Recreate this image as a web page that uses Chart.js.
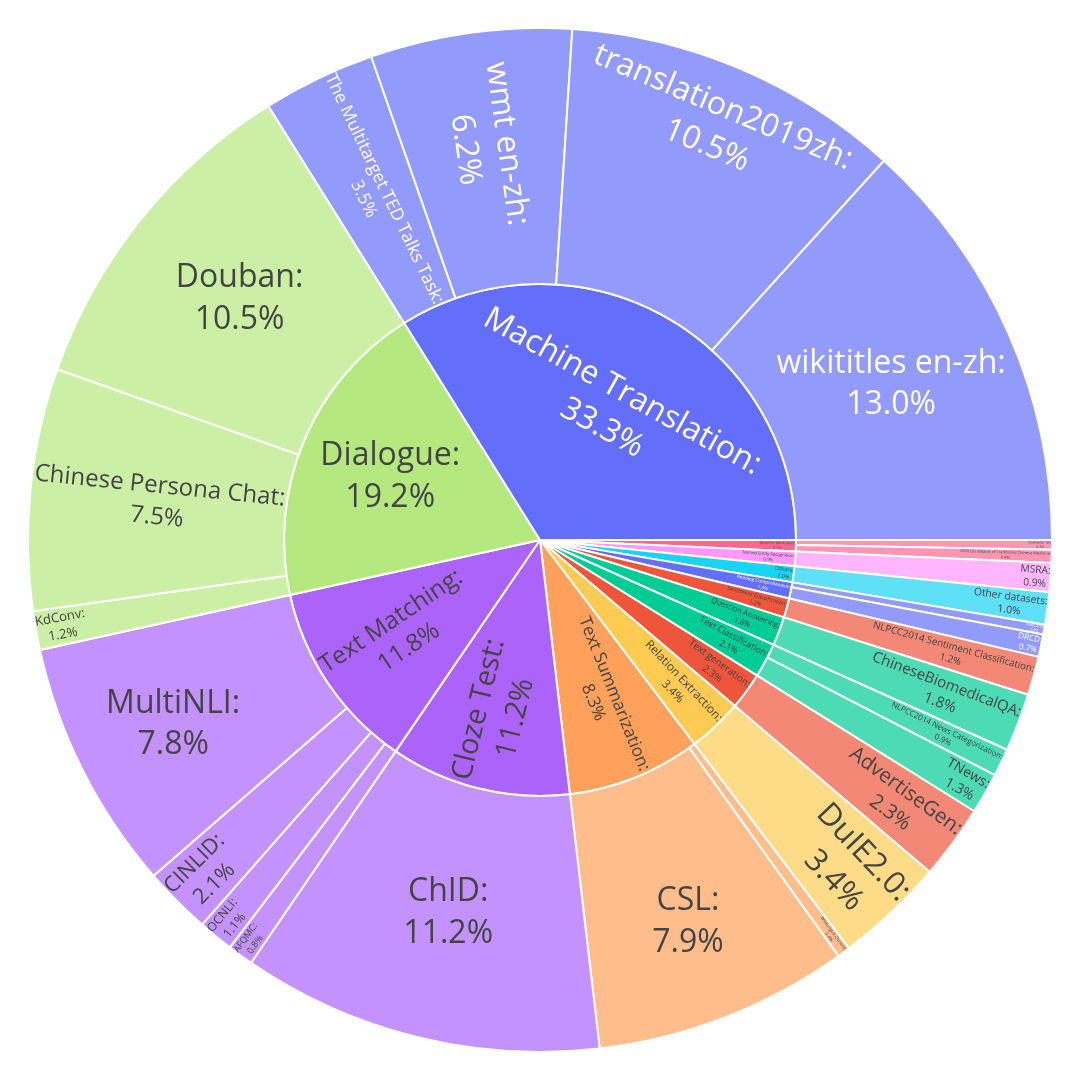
<!DOCTYPE html>
<html>
<head>
<meta charset="utf-8">
<script src="https://cdn.jsdelivr.net/npm/chart.js@4"></script>
<style>
  html, body { margin: 0; padding: 0; background: #ffffff; }
  #wrap { width: 1080px; height: 1080px; }
</style>
</head>
<body>
<div id="wrap"><canvas id="c" width="1080" height="1080"></canvas></div>
<script>
// ---- data (counter-clockwise order from 3 o'clock, as in the reference) ----
const categories = ["Machine Translation", "Dialogue", "Text Matching", "Cloze Test",
  "Text Summarization", "Relation Extraction", "Text generation", "Text Classification",
  "Question Answering", "Sentiment Classification", "Reading Comprehension", "Others",
  "Named Entity Recognition", "Question Generation"];
const categoryColors = ["#636efa", "#b6e880", "#ab63fa", "#ab63fa", "#ffa15a", "#fecb52",
  "#ef553b", "#00cc96", "#00cc96", "#ef553b", "#636efa", "#19d3f3", "#ff97ff", "#ff6692"];

const datasetNames = ["wikititles en-zh", "translation2019zh", "wmt en-zh", "The Multitarget TED Talks Task",
  "Douban", "Chinese Persona Chat", "KdConv",
  "MultiNLI", "CINLID", "OCNLI", "AFQMC",
  "ChID",
  "CSL", "WikiLingua Chinese",
  "DuIE2.0",
  "AdvertiseGen",
  "TNews", "NLPCC2014 News Categorization",
  "ChineseBiomedicalQA",
  "NLPCC2014 Sentiment Classification",
  "DRCD", "CMRC2018",
  "Other datasets",
  "MSRA",
  "2020 QG dataset of Traditional Chinese Medicine", "DuReader QG"];
const datasetParents = [0, 0, 0, 0, 1, 1, 1, 2, 2, 2, 2, 3, 4, 4, 5, 6, 7, 7, 8, 9, 10, 10, 11, 12, 13, 13];
const datasetValues = [13.04, 10.53, 6.24, 3.49, 10.5, 7.5, 1.2, 7.8, 2.1, 1.1, 0.8, 11.2, 7.9, 0.4,
  3.4, 2.3, 1.27, 0.86, 1.8, 1.2, 0.7, 0.3, 1.0, 0.9, 0.4, 0.3];

// ---- derived ----
const categoryValues = categories.map((_, i) =>
  datasetValues.reduce((s, v, j) => s + (datasetParents[j] === i ? v : 0), 0));

function hexToRgb(h) { h = h.replace('#', ''); return [0, 2, 4].map(i => parseInt(h.substr(i, 2), 16)); }
function leafColor(h) { const c = hexToRgb(h).map(v => Math.round(v * 0.7 + 255 * 0.3)); return `rgb(${c[0]},${c[1]},${c[2]})`; }
function textColorFor(h) { const c = hexToRgb(h); const b = (c[0] * 299 + c[1] * 587 + c[2] * 114) / 1000; return b >= 128 ? '#444444' : '#ffffff'; }

const rev = a => a.slice().reverse();

const outerLines = datasetNames.map((n, i) => [n + ':', datasetValues[i].toFixed(1) + '%']);
const innerLines = categories.map((n, i) => [n + ':', categoryValues[i].toFixed(1) + '%']);
const outerColors = datasetParents.map(p => leafColor(categoryColors[p]));
const outerText = datasetParents.map(p => textColorFor(categoryColors[p]));
const innerText = categoryColors.map(textColorFor);

// ---- Plotly-like inside-text placement ----
const FONT_SIZE = 32, LINE_H = 1.3, TEXTPAD = 3, FONT_FAMILY = '"Open Sans", "DejaVu Sans", sans-serif';
function calcMaxHalfSize(a, halfAngle, r, ring) {
  const q = a + 1 / (2 * Math.tan(halfAngle));
  return r * Math.min(1 / (Math.sqrt(q * q + 0.5) + q), ring / (Math.sqrt(a * a + ring / 2) + a));
}
function calcRCenter(a, b) { return Math.cos(b) - a * b; }
function rotDeg(canvasRad, extra) {
  const d = canvasRad * 180 / Math.PI + 90 + extra;
  return ((d + 720) % 180) - 90;
}
function transformInside(w, h, r0, r1, start, end) {
  const delta = end - start;
  const halfAngle = 0.5 * Math.min(delta || Math.PI, Math.PI);
  const ring = 1 - r0 / r1;
  const rIns = Math.max(0, Math.min(1 / (1 + 1 / Math.sin(halfAngle)), ring / 2));
  const mid = (start + end) / 2;
  const cands = [];
  const hz = { scale: rIns * r1 * 2 / Math.hypot(w, h), rCenter: 1 - rIns, rotate: 0 };
  if (hz.scale >= 1) return hz;
  cands.push(hz);
  const rr = Math.max(0, r1 - 2 * TEXTPAD);
  let a = w / h, s = calcMaxHalfSize(a, halfAngle, rr, ring);
  cands.push({ scale: s * 2 / h, rCenter: calcRCenter(a, s / rr), rotate: rotDeg(mid, 0) });
  a = h / w; s = calcMaxHalfSize(a, halfAngle, rr, ring);
  cands.push({ scale: s * 2 / w, rCenter: calcRCenter(a, s / rr), rotate: rotDeg(mid, 90) });
  let best = cands[0];
  for (const c of cands) if (c.scale > best.scale) best = c;
  return best;
}

const labelPlugin = {
  id: 'sunLabels',
  afterDatasetsDraw(chart) {
    const ctx = chart.ctx;
    chart.data.datasets.forEach((ds, di) => {
      const meta = chart.getDatasetMeta(di);
      meta.data.forEach((arc, k) => {
        const p = arc.getProps(['x', 'y', 'startAngle', 'endAngle', 'innerRadius', 'outerRadius'], true);
        const lines = ds.textLines[k];
        ctx.save();
        ctx.font = `${FONT_SIZE}px ${FONT_FAMILY}`;
        const w = Math.max(...lines.map(l => ctx.measureText(l).width));
        const h = (lines.length - 1) * LINE_H * FONT_SIZE + 1.362 * FONT_SIZE;
        const t = transformInside(w, h, p.innerRadius, p.outerRadius, p.startAngle, p.endAngle);
        const sc = Math.min(1, t.scale);
        const fs = FONT_SIZE * sc;
        if (fs < 0.8) { ctx.restore(); return; }
        const mid = (p.startAngle + p.endAngle) / 2;
        const rc = t.rCenter * p.outerRadius;
        ctx.translate(p.x + rc * Math.cos(mid), p.y + rc * Math.sin(mid));
        ctx.rotate(t.rotate * Math.PI / 180);
        ctx.font = `${fs}px ${FONT_FAMILY}`;
        ctx.fillStyle = ds.textColors[k];
        ctx.textAlign = 'center';
        ctx.textBaseline = 'middle';
        lines.forEach((l, i) => ctx.fillText(l, 0, (i - (lines.length - 1) / 2) * LINE_H * fs));
        ctx.restore();
      });
    });
  }
};

function make() {
  new Chart(document.getElementById('c'), {
    type: 'doughnut',
    data: {
      labels: rev(datasetNames),
      datasets: [
        { data: rev(datasetValues), backgroundColor: rev(outerColors), borderColor: '#ffffff', borderWidth: 2,
          textLines: rev(outerLines), textColors: rev(outerText) },
        { data: rev(categoryValues), backgroundColor: rev(categoryColors), borderColor: '#ffffff', borderWidth: 2,
          textLines: rev(innerLines), textColors: rev(innerText) }
      ]
    },
    options: {
      responsive: false,
      devicePixelRatio: 1,
      animation: false,
      cutout: 0,
      rotation: 90,
      layout: { padding: 27 },
      plugins: { legend: { display: false }, tooltip: { enabled: false } }
    },
    plugins: [labelPlugin]
  });
}
if (document.fonts && document.fonts.load) {
  document.fonts.load(`32px "Open Sans"`).then(make, make);
} else { make(); }
</script>
</body>
</html>
